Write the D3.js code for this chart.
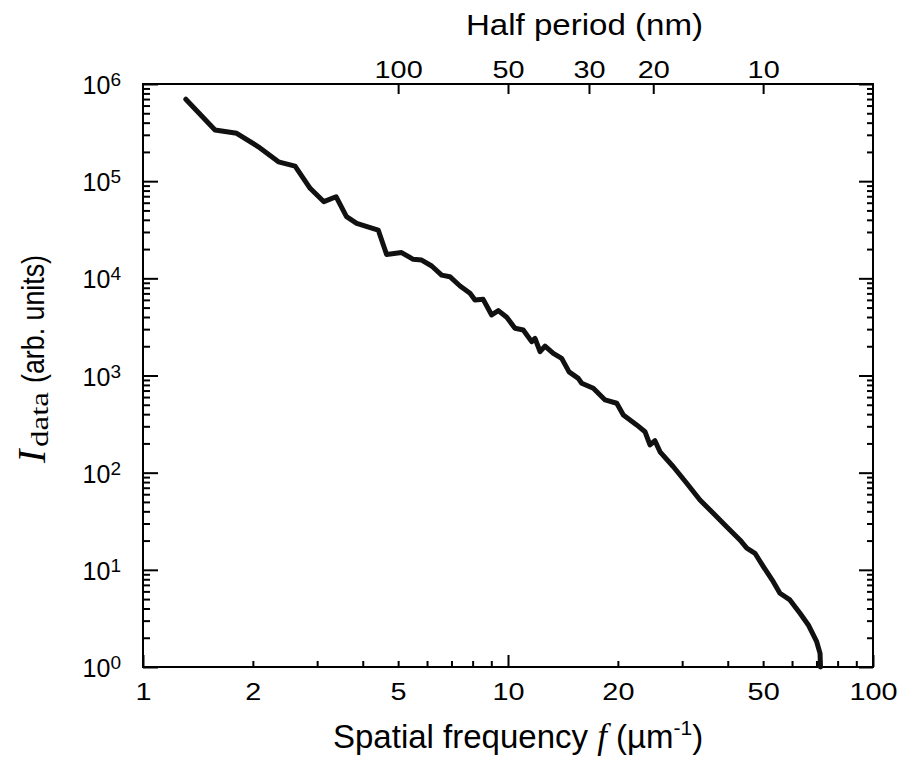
<!DOCTYPE html>
<html>
<head>
<meta charset="utf-8">
<script src="https://cdn.jsdelivr.net/npm/d3@7"></script>
<style>
  body { margin: 0; background: #fff; }
  text { font-family: "Liberation Sans", Arial, Helvetica, sans-serif; fill: #000; }
  .serif { font-family: "Liberation Serif", "Times New Roman", serif; }
</style>
</head>
<body>
<svg width="907" height="759"></svg>
<script>
var freq = [1.31, 1.575, 1.806, 2.07, 2.35, 2.61, 2.87, 3.13, 3.38, 3.61, 3.85, 4.41, 4.65,
  5.11, 5.50, 5.80, 6.18, 6.58, 6.93, 7.39, 7.87, 8.12, 8.55, 9.02, 9.41, 9.92,
  10.45, 11.01, 11.61, 11.86, 12.24, 12.63, 13.31, 14.03, 14.7, 15.58, 15.92, 17.13,
  18.45, 19.86, 20.7, 22.52, 23.73, 24.49, 25.27, 26.09, 28.38, 30.88, 33.57, 36.51,
  39.72, 43.2, 45.1, 47.5, 50.07, 53.3, 55.6, 59.2, 63.1, 66.5, 70.1, 71.6, 71.8];
var intensity = [6.97e5, 3.36e5, 3.11e5, 2.26e5, 1.58e5, 1.43e5, 8.44e4, 6.15e4, 6.92e4, 4.31e4, 3.68e4, 3.14e4, 1.76e4,
  1.84e4, 1.57e4, 1.54e4, 1.34e4, 1.08e4, 1.04e4, 8340, 7020, 5980, 6080, 4200, 4650, 3970,
  3060, 2940, 2230, 2410, 1760, 2010, 1690, 1500, 1090, 935, 832, 738,
  560, 518, 393, 310, 264, 193, 213, 164, 115, 77.8, 52.4, 38.2,
  27.8, 20.3, 16.7, 14.8, 10.8, 7.55, 5.74, 4.9, 3.57, 2.71, 1.82, 1.38, 1.0];

var bottomLabels = [1, 2, 5, 10, 20, 50, 100];
var halfPeriods = [100, 50, 30, 20, 10];   // nm, top axis
var yDecades = [1, 10, 100, 1e3, 1e4, 1e5, 1e6];

var plotLeft = 143, plotRight = 873, plotTop = 84, plotBottom = 667;

var xScale = d3.scaleLog().domain([1, 100]).range([plotLeft, plotRight]);
var yScale = d3.scaleLog().domain([1, 1e6]).range([plotBottom, plotTop]);

// half period (nm) = 1 / (2 f) with f in um^-1
var hpToFreq = hp => 500 / hp;

var xMinor = [];
var yMinor = [];
[1, 10].forEach(d => { for (var k = 2; k < 10; k++) xMinor.push(d * k); });
[1, 10, 100, 1e3, 1e4, 1e5].forEach(d => { for (var k = 2; k < 10; k++) yMinor.push(d * k); });

var svg = d3.select('svg');

function addAxis(axis, tx, ty) {
  var g = svg.append('g')
    .attr('transform', 'translate(' + tx + ',' + ty + ')')
    .call(axis);
  g.select('.domain').remove();
  g.selectAll('line').attr('stroke', '#000').attr('stroke-width', 2);
  return g;
}

// bottom ticks (pointing inward)
addAxis(d3.axisBottom(xScale).tickValues([1, 10, 100]).tickSize(-12).tickFormat(''), 0, plotBottom);
addAxis(d3.axisBottom(xScale).tickValues(xMinor).tickSize(-6).tickFormat(''), 0, plotBottom);
var bottomText = addAxis(d3.axisBottom(xScale).tickValues(bottomLabels).tickSize(0).tickPadding(16)
  .tickFormat(d3.format('d')), 0, plotBottom);
bottomText.selectAll('text')
  .style('font-size', '24px')
  .attr('transform', 'scale(1.2,1)');

// top axis: half period
var topText = addAxis(d3.axisTop(xScale).tickValues(halfPeriods.map(hpToFreq)).tickSize(-10).tickPadding(6)
  .tickFormat(d => Math.round(500 / d)), 0, plotTop);
topText.selectAll('text')
  .attr('y', -6)
  .style('font-size', '24px')
  .attr('transform', 'scale(1.2,1)');

// left and right ticks
addAxis(d3.axisLeft(yScale).tickValues(yDecades).tickSize(-15).tickFormat(''), plotLeft, 0);
addAxis(d3.axisLeft(yScale).tickValues(yMinor).tickSize(-7).tickFormat(''), plotLeft, 0);
addAxis(d3.axisRight(yScale).tickValues(yDecades).tickSize(-14).tickFormat(''), plotRight, 0);
addAxis(d3.axisRight(yScale).tickValues(yMinor).tickSize(-6).tickFormat(''), plotRight, 0);

// left labels 10^n
var yLab = svg.append('g').selectAll('text')
  .data(yDecades)
  .enter()
  .append('text')
  .attr('x', 121)
  .attr('y', d => yScale(d) + 10)
  .style('text-anchor', 'end')
  .style('font-size', '25px');
yLab.append('tspan').text('10');
yLab.append('tspan')
  .attr('dy', -8)
  .style('font-size', '19px')
  .text(d => Math.round(Math.log10(d)));

// frame
svg.append('rect')
  .attr('x', plotLeft)
  .attr('y', plotTop)
  .attr('width', plotRight - plotLeft)
  .attr('height', plotBottom - plotTop)
  .attr('fill', 'none')
  .attr('stroke', '#000')
  .attr('stroke-width', 2);

// data curve
var line = d3.line()
  .x((d, i) => xScale(freq[i]))
  .y(d => yScale(d));

svg.append('path')
  .datum(intensity)
  .attr('d', line)
  .attr('fill', 'none')
  .attr('stroke', '#111')
  .attr('stroke-width', 5)
  .attr('stroke-linejoin', 'round')
  .attr('stroke-linecap', 'round');

// titles
svg.append('text')
  .attr('x', 584.5)
  .attr('y', 35)
  .attr('textLength', 237)
  .attr('lengthAdjust', 'spacingAndGlyphs')
  .style('text-anchor', 'middle')
  .style('font-size', '29px')
  .text('Half period (nm)');

var xTitle = svg.append('text')
  .attr('x', 333)
  .attr('y', 748)
  .style('font-size', '33px');
xTitle.append('tspan').text('Spatial frequency ');
xTitle.append('tspan').attr('class', 'serif').style('font-style', 'italic').style('font-size', '35px').text('f');
xTitle.append('tspan').text(' (\u00b5m');
xTitle.append('tspan').attr('dy', -13).style('font-size', '21px').text('-1');
xTitle.append('tspan').attr('dy', 13).text(')');

var yTitle = svg.append('g')
  .attr('transform', 'translate(44,359) rotate(-90)');
yTitle.append('text')
  .attr('class', 'serif')
  .attr('x', -104)
  .attr('y', 1)
  .style('font-style', 'italic')
  .style('font-size', '40px')
  .text('I');
yTitle.append('text')
  .attr('class', 'serif')
  .attr('x', -88)
  .attr('y', 4)
  .attr('textLength', 55)
  .attr('lengthAdjust', 'spacingAndGlyphs')
  .style('font-size', '26px')
  .text('data');
yTitle.append('text')
  .attr('x', -24)
  .attr('y', 0)
  .attr('textLength', 128)
  .attr('lengthAdjust', 'spacingAndGlyphs')
  .style('font-size', '32px')
  .text('(arb. units)');
</script>
</body>
</html>
